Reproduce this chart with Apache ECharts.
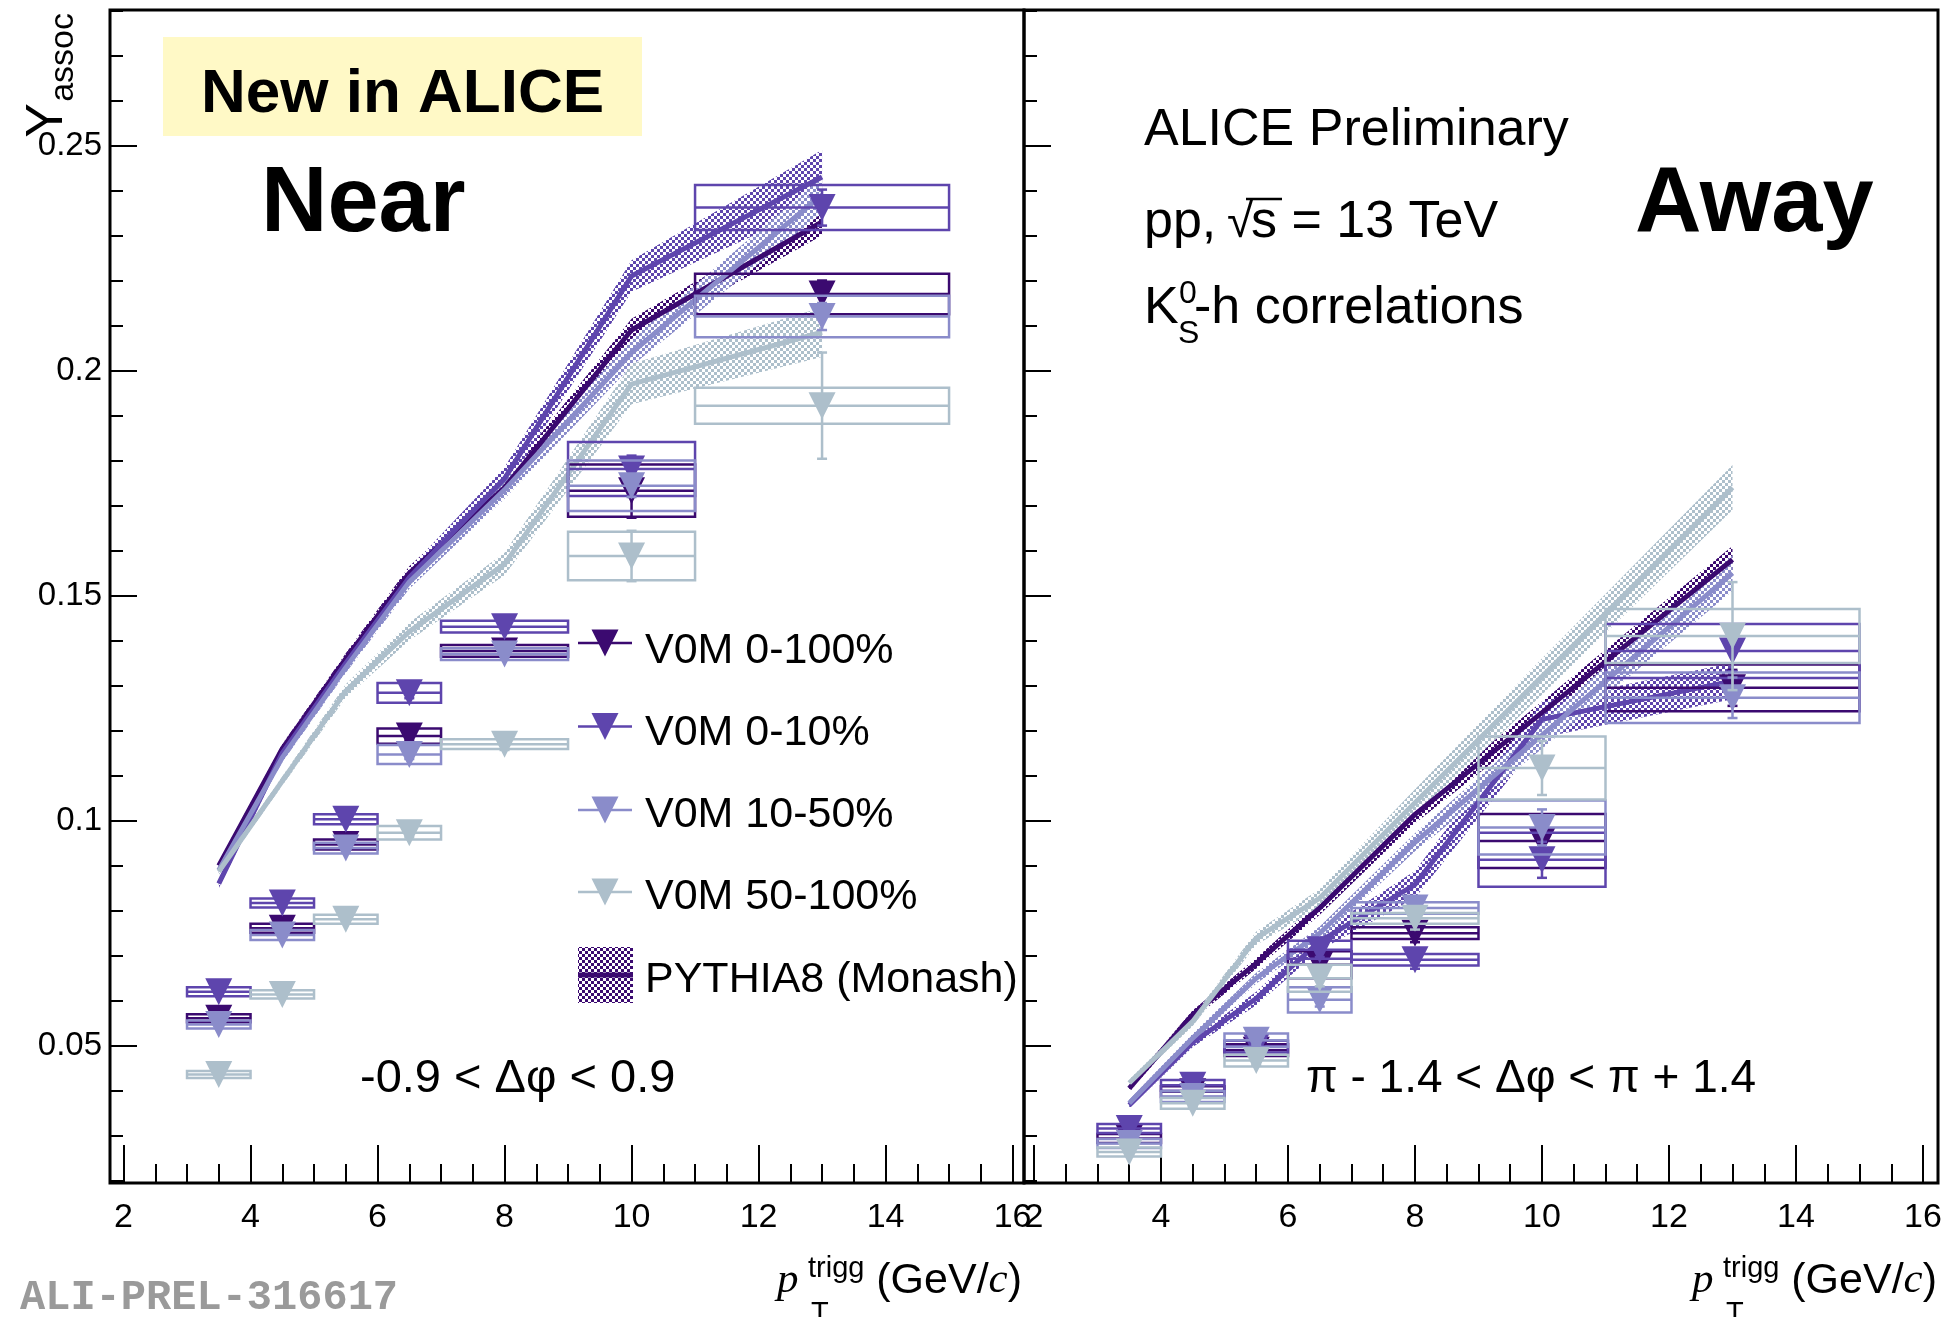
<!DOCTYPE html>
<html>
<head>
<meta charset="utf-8">
<script src="https://cdn.jsdelivr.net/npm/echarts@6/dist/echarts.min.js"></script>
<style>
  html, body { margin: 0; padding: 0; background: #ffffff; }
  #chart { width: 1952px; height: 1317px; }
</style>
</head>
<body>
<div id="chart"></div>
<script>
// ---- trigger pT binning ----
const ptBinLow    = [3, 4, 5, 6, 7, 9, 11];
const ptBinHigh   = [4, 5, 6, 7, 9, 11, 15];
const ptBinCenter = [3.5, 4.5, 5.5, 6.5, 8, 10, 13];

const multClasses = ['V0M 0-100%', 'V0M 0-10%', 'V0M 10-50%', 'V0M 50-100%'];
const multColors  = ['#3b0a70', '#5e45ad', '#8a8cca', '#adbfcb'];

// ---- axis ticks ----
const xTickLabels = [2, 4, 6, 8, 10, 12, 14, 16];
const yTickLabels = [0.05, 0.1, 0.15, 0.2, 0.25];

// ---- near side, -0.9 < dphi < 0.9 : measured yields ----
const nearYield_0_100  = [0.0561, 0.0761, 0.0947, 0.1188, 0.1377, 0.1733, 0.2170];
const nearYield_0_10   = [0.0620, 0.0817, 0.1003, 0.1284, 0.1431, 0.1781, 0.2362];
const nearYield_10_50  = [0.0547, 0.0746, 0.0939, 0.1147, 0.1370, 0.1744, 0.2120];
const nearYield_50_100 = [0.0436, 0.0614, 0.0781, 0.0973, 0.1170, 0.1588, 0.1922];

const nearSys_0_100  = [0.0009, 0.0010, 0.0011, 0.0017, 0.0013, 0.0058, 0.0045];
const nearSys_0_10   = [0.0010, 0.0010, 0.0011, 0.0022, 0.0013, 0.0060, 0.0050];
const nearSys_10_50  = [0.0009, 0.0011, 0.0012, 0.0021, 0.0013, 0.0056, 0.0046];
const nearSys_50_100 = [0.0008, 0.0009, 0.0010, 0.0015, 0.0011, 0.0054, 0.0040];

const nearStat_0_100  = [0.0004, 0.0005, 0.0007, 0.0010, 0.0012, 0.0060, 0.0030];
const nearStat_0_10   = [0.0005, 0.0006, 0.0008, 0.0012, 0.0014, 0.0030, 0.0040];
const nearStat_10_50  = [0.0004, 0.0005, 0.0007, 0.0010, 0.0012, 0.0025, 0.0030];
const nearStat_50_100 = [0.0004, 0.0005, 0.0007, 0.0010, 0.0013, 0.0056, 0.0118];

// ---- near side : PYTHIA8 (Monash) ----
const nearPythia_0_100  = [0.0900, 0.1160, 0.1360, 0.1550, 0.1740, 0.2090, 0.2330];
const nearPythia_0_10   = [0.0860, 0.1150, 0.1350, 0.1540, 0.1760, 0.2210, 0.2430];
const nearPythia_10_50  = [0.0890, 0.1140, 0.1340, 0.1530, 0.1735, 0.2040, 0.2390];
const nearPythia_50_100 = [0.0887, 0.1088, 0.1288, 0.1420, 0.1570, 0.1970, 0.2085];

const nearPythiaErr_0_100  = [0.0008, 0.0010, 0.0012, 0.0015, 0.0018, 0.0025, 0.0030];
const nearPythiaErr_0_10   = [0.0010, 0.0012, 0.0015, 0.0020, 0.0025, 0.0035, 0.0060];
const nearPythiaErr_10_50  = [0.0008, 0.0010, 0.0012, 0.0015, 0.0020, 0.0030, 0.0040];
const nearPythiaErr_50_100 = [0.0008, 0.0010, 0.0015, 0.0020, 0.0025, 0.0045, 0.0055];

// ---- away side, pi - 1.4 < dphi < pi + 1.4 : measured yields ----
const awayYield_0_100  = [0.0294, 0.0398, 0.0490, 0.0680, 0.0750, 0.0955, 0.1295];
const awayYield_0_10   = [0.0316, 0.0412, 0.0498, 0.0713, 0.0691, 0.0913, 0.1377];
const awayYield_10_50  = [0.0283, 0.0387, 0.0512, 0.0602, 0.0806, 0.0985, 0.1273];
const awayYield_50_100 = [0.0264, 0.0372, 0.0467, 0.0650, 0.0783, 0.1117, 0.1410];

const awaySys_0_100  = [0.0010, 0.0012, 0.0013, 0.0030, 0.0013, 0.0060, 0.0052];
const awaySys_0_10   = [0.0010, 0.0012, 0.0013, 0.0020, 0.0013, 0.0060, 0.0060];
const awaySys_10_50  = [0.0010, 0.0012, 0.0015, 0.0028, 0.0013, 0.0060, 0.0056];
const awaySys_50_100 = [0.0010, 0.0012, 0.0013, 0.0030, 0.0012, 0.0070, 0.0060];

const awayStat_0_100  = [0.0006, 0.0008, 0.0010, 0.0015, 0.0020, 0.0040, 0.0040];
const awayStat_0_10   = [0.0007, 0.0009, 0.0011, 0.0016, 0.0020, 0.0040, 0.0045];
const awayStat_10_50  = [0.0006, 0.0008, 0.0010, 0.0015, 0.0020, 0.0040, 0.0045];
const awayStat_50_100 = [0.0006, 0.0008, 0.0010, 0.0018, 0.0025, 0.0060, 0.0120];

// ---- away side : PYTHIA8 (Monash) ----
const awayPythia_0_100  = [0.0405, 0.0569, 0.0683, 0.0806, 0.1014, 0.1240, 0.1580];
const awayPythia_0_10   = [0.0368, 0.0507, 0.0605, 0.0732, 0.0858, 0.1225, 0.1310];
const awayPythia_10_50  = [0.0372, 0.0517, 0.0650, 0.0750, 0.0952, 0.1190, 0.1550];
const awayPythia_50_100 = [0.0417, 0.0554, 0.0739, 0.0828, 0.1040, 0.1320, 0.1740];

const awayPythiaErr_0_100  = [0.0008, 0.0010, 0.0012, 0.0015, 0.0020, 0.0025, 0.0030];
const awayPythiaErr_0_10   = [0.0008, 0.0010, 0.0015, 0.0020, 0.0030, 0.0040, 0.0040];
const awayPythiaErr_10_50  = [0.0008, 0.0010, 0.0012, 0.0015, 0.0020, 0.0030, 0.0040];
const awayPythiaErr_50_100 = [0.0008, 0.0010, 0.0015, 0.0020, 0.0030, 0.0040, 0.0050];

const panels = [
  {
    yields: [nearYield_0_100, nearYield_0_10, nearYield_10_50, nearYield_50_100],
    sys:    [nearSys_0_100, nearSys_0_10, nearSys_10_50, nearSys_50_100],
    stat:   [nearStat_0_100, nearStat_0_10, nearStat_10_50, nearStat_50_100],
    pythia: [nearPythia_0_100, nearPythia_0_10, nearPythia_10_50, nearPythia_50_100],
    pythiaErr: [nearPythiaErr_0_100, nearPythiaErr_0_10, nearPythiaErr_10_50, nearPythiaErr_50_100]
  },
  {
    yields: [awayYield_0_100, awayYield_0_10, awayYield_10_50, awayYield_50_100],
    sys:    [awaySys_0_100, awaySys_0_10, awaySys_10_50, awaySys_50_100],
    stat:   [awayStat_0_100, awayStat_0_10, awayStat_10_50, awayStat_50_100],
    pythia: [awayPythia_0_100, awayPythia_0_10, awayPythia_10_50, awayPythia_50_100],
    pythiaErr: [awayPythiaErr_0_100, awayPythiaErr_0_10, awayPythiaErr_10_50, awayPythiaErr_50_100]
  }
];

const fontSans  = "'Liberation Sans', Arial, Helvetica, sans-serif";
const fontSerif = "'Liberation Serif', 'Times New Roman', serif";
const fontMono  = "'Liberation Mono', 'Courier New', monospace";

// checkerboard fill used for the model uncertainty bands
function checker(color) {
  const c = document.createElement('canvas');
  c.width = 6; c.height = 6;
  const g = c.getContext('2d');
  g.fillStyle = color;
  g.fillRect(0, 0, 3, 3);
  g.fillRect(3, 3, 3, 3);
  return { image: c, repeat: 'repeat' };
}

// ---- axes ----
const xRanges = [[1.787, 16.18], [1.843, 16.236]];
const yRange = [0.0195, 0.2801];
const xMinor = [], yMinor = [];
for (let v = 2.5; v < 16.3; v += 0.5) xMinor.push(+v.toFixed(1));
for (let v = 0.02; v < 0.281; v += 0.01) yMinor.push(+v.toFixed(2));

const grids = [
  { show: true, left: 110, top: 10, width: 914, height: 1173, borderColor: '#000', borderWidth: 3, backgroundColor: 'transparent' },
  { show: true, left: 1024, top: 10, width: 914, height: 1173, borderColor: '#000', borderWidth: 3, backgroundColor: 'transparent' }
];
const xAxes = [], yAxes = [];
[0, 1].forEach(p => {
  xAxes.push({
    type: 'value', gridIndex: p, position: 'bottom', min: xRanges[p][0], max: xRanges[p][1],
    axisLine: { show: false }, splitLine: { show: false },
    axisTick: { show: true, inside: true, length: 38, customValues: xTickLabels, lineStyle: { color: '#000', width: 2 } },
    axisLabel: { show: true, customValues: xTickLabels, fontSize: 34, color: '#000', fontFamily: fontSans, margin: 18 }
  });
  xAxes.push({
    type: 'value', gridIndex: p, position: 'bottom', offset: 0, min: xRanges[p][0], max: xRanges[p][1],
    axisLine: { show: false }, splitLine: { show: false },
    axisTick: { show: true, inside: true, length: 19, customValues: xMinor, lineStyle: { color: '#000', width: 2 } },
    axisLabel: { show: false }
  });
  yAxes.push({
    type: 'value', gridIndex: p, position: 'left', min: yRange[0], max: yRange[1],
    axisLine: { show: false }, splitLine: { show: false },
    axisTick: { show: true, inside: true, length: 27, customValues: yTickLabels, lineStyle: { color: '#000', width: 2 } },
    axisLabel: { show: p === 0, customValues: yTickLabels, fontSize: 33, color: '#000', fontFamily: fontSans, margin: 8,
                 formatter: v => String(v) }
  });
  yAxes.push({
    type: 'value', gridIndex: p, position: 'left', offset: 0, min: yRange[0], max: yRange[1],
    axisLine: { show: false }, splitLine: { show: false },
    axisTick: { show: true, inside: true, length: 13, customValues: yMinor, lineStyle: { color: '#000', width: 2 } },
    axisLabel: { show: false }
  });
});

// ---- series ----
const series = [];
[0, 1].forEach(p => {
  const P = panels[p];
  const ax = { xAxisIndex: p * 2, yAxisIndex: p * 2 };
  // PYTHIA uncertainty bands: one closed polygon per model curve
  P.pythia.forEach((vals, k) => {
    const err = P.pythiaErr[k];
    const fill = checker(multColors[k]);
    series.push({
      type: 'custom', ...ax, z: 2, silent: true, clip: true,
      encode: { x: 0, y: 1 },
      data: vals.map((v, i) => [ptBinCenter[i], v, err[i]]),
      renderItem: (params, api) => {
        if (params.dataIndex !== 0) return null;
        const upper = [], lower = [];
        for (let i = 0; i < vals.length; i++) {
          upper.push(api.coord([ptBinCenter[i], vals[i] + err[i]]));
          lower.push(api.coord([ptBinCenter[i], vals[i] - err[i]]));
        }
        return {
          type: 'polygon',
          shape: { points: upper.concat(lower.reverse()) },
          style: { fill: fill, stroke: null }
        };
      }
    });
  });
  // PYTHIA central values
  P.pythia.forEach((vals, k) => {
    series.push({
      type: 'line', ...ax, silent: true, symbol: 'none', z: 3,
      lineStyle: { color: multColors[k], width: 5 },
      data: vals.map((v, i) => [ptBinCenter[i], v])
    });
  });
  // measured points: systematic box, bin-width bar, statistical bar, marker
  P.yields.forEach((vals, k) => {
    const color = multColors[k];
    series.push({
      type: 'custom', name: multClasses[k], ...ax, z: 10 + k, silent: true,
      encode: { x: [0, 2, 3], y: 1 },
      data: vals.map((v, i) => [ptBinCenter[i], v, ptBinLow[i], ptBinHigh[i], P.sys[k][i], P.stat[k][i]]),
      renderItem: (params, api) => {
        const x = api.value(0), y = api.value(1);
        const xl = api.value(2), xh = api.value(3);
        const sys = api.value(4), st = api.value(5);
        const c = api.coord([x, y]);
        const tl = api.coord([xl, y + sys]);
        const br = api.coord([xh, y - sys]);
        const s1 = api.coord([x, y + st]);
        const s2 = api.coord([x, y - st]);
        const lw = 2.5, m = 13.5, cap = 5;
        return {
          type: 'group',
          children: [
            { type: 'rect', shape: { x: tl[0], y: tl[1], width: br[0] - tl[0], height: br[1] - tl[1] },
              style: { fill: 'none', stroke: color, lineWidth: lw } },
            { type: 'line', shape: { x1: tl[0], y1: c[1], x2: br[0], y2: c[1] },
              style: { stroke: color, lineWidth: lw } },
            { type: 'line', shape: { x1: c[0], y1: s1[1], x2: c[0], y2: s2[1] },
              style: { stroke: color, lineWidth: lw } },
            { type: 'line', shape: { x1: c[0] - cap, y1: s1[1], x2: c[0] + cap, y2: s1[1] },
              style: { stroke: color, lineWidth: lw } },
            { type: 'line', shape: { x1: c[0] - cap, y1: s2[1], x2: c[0] + cap, y2: s2[1] },
              style: { stroke: color, lineWidth: lw } },
            { type: 'polygon', shape: { points: [[c[0] - m, c[1] - m], [c[0] + m, c[1] - m], [c[0], c[1] + m]] },
              style: { fill: color } }
          ]
        };
      }
    });
  });
});

// ---- annotations ----
// text placed by its baseline
function txt(str, x, baseline, size, extra) {
  return {
    type: 'text', z: 60,
    style: Object.assign({
      text: str, x: x, y: baseline - 0.28 * size, fontSize: size, fontFamily: fontSans,
      fill: '#000', align: 'left', verticalAlign: 'middle'
    }, extra || {})
  };
}

const graphics = [];
graphics.push({ type: 'rect', z: 1, shape: { x: 163, y: 37, width: 479, height: 99 }, style: { fill: '#fff9c6' } });
graphics.push(txt('New in ALICE', 201, 112, 62, { fontWeight: 'bold' }));
graphics.push(txt('Near', 261, 231, 92, { fontWeight: 'bold' }));
graphics.push(txt('Away', 1635, 231, 92, { fontWeight: 'bold' }));
graphics.push(txt('ALICE Preliminary', 1144, 145, 52));
graphics.push(txt('pp,', 1144, 237, 52));
graphics.push(txt('\u221A', 1227, 237, 48));
graphics.push({ type: 'line', z: 60, shape: { x1: 1246, y1: 199, x2: 1282, y2: 199 }, style: { stroke: '#000', lineWidth: 2.5 } });
graphics.push(txt('s = 13 TeV', 1251, 237, 52));
graphics.push(txt('K', 1144, 323, 52));
graphics.push(txt('0', 1179, 303, 32));
graphics.push(txt('S', 1178, 343, 32));
graphics.push(txt('-h correlations', 1194, 323, 52));
graphics.push(txt('-0.9 < \u0394\u03C6 < 0.9', 360, 1092, 47));
graphics.push(txt('\u03C0 - 1.4 < \u0394\u03C6 < \u03C0 + 1.4', 1306, 1092, 46));
graphics.push(txt('ALI-PREL-316617', 20, 1310, 42, { fontFamily: fontMono, fontWeight: 'bold', fill: '#9a9a9a' }));

// x-axis titles
[0, 915].forEach(off => {
  graphics.push(txt('p', 777 + off, 1293, 43, { fontFamily: fontSerif, fontStyle: 'italic' }));
  graphics.push(txt('trigg', 808 + off, 1277, 29));
  graphics.push(txt('T', 811 + off, 1322, 29));
  graphics.push({
    type: 'text', z: 60,
    style: {
      text: '{a|(GeV/}{b|c}{a|)}', x: 1022 + off, y: 1293 - 0.28 * 43, align: 'right', verticalAlign: 'middle',
      rich: {
        a: { fontSize: 43, fontFamily: fontSans, fill: '#000' },
        b: { fontSize: 43, fontFamily: fontSerif, fontStyle: 'italic', fill: '#000' }
      }
    }
  });
});

// y-axis title (rotated)
graphics.push({ type: 'text', z: 60, x: 48, y: 103, rotation: Math.PI / 2,
  style: { text: 'Y', x: 0, y: 0, fontSize: 52, fontFamily: fontSans, fill: '#000', align: 'right', verticalAlign: 'middle' } });
graphics.push({ type: 'text', z: 60, x: 64, y: 13, rotation: Math.PI / 2,
  style: { text: 'assoc', x: 0, y: 0, fontSize: 34, fontFamily: fontSans, fill: '#000', align: 'right', verticalAlign: 'middle' } });

// legend
const legendRowY = [643, 726.5, 810, 892];
const legendTextBase = [663, 745, 827, 909];
multClasses.forEach((name, k) => {
  const cy = legendRowY[k], col = multColors[k];
  graphics.push({ type: 'line', z: 60, shape: { x1: 578, y1: cy, x2: 632, y2: cy }, style: { stroke: col, lineWidth: 2.5 } });
  graphics.push({ type: 'polygon', z: 61, shape: { points: [[591.5, cy - 13.5], [618.5, cy - 13.5], [605, cy + 13.5]] }, style: { fill: col } });
  graphics.push(txt(name, 645, legendTextBase[k], 43));
});
graphics.push({ type: 'rect', z: 60, shape: { x: 578, y: 947, width: 55, height: 56 }, style: { fill: checker(multColors[0]) } });
graphics.push({ type: 'line', z: 61, shape: { x1: 578, y1: 975, x2: 633, y2: 975 }, style: { stroke: multColors[0], lineWidth: 5 } });
graphics.push(txt('PYTHIA8 (Monash)', 645, 992, 43));

const chart = echarts.init(document.getElementById('chart'), null, { renderer: 'canvas' });
chart.setOption({
  animation: false,
  backgroundColor: '#ffffff',
  grid: grids,
  xAxis: xAxes,
  yAxis: yAxes,
  series: series,
  graphic: { elements: graphics }
});
</script>
</body>
</html>
